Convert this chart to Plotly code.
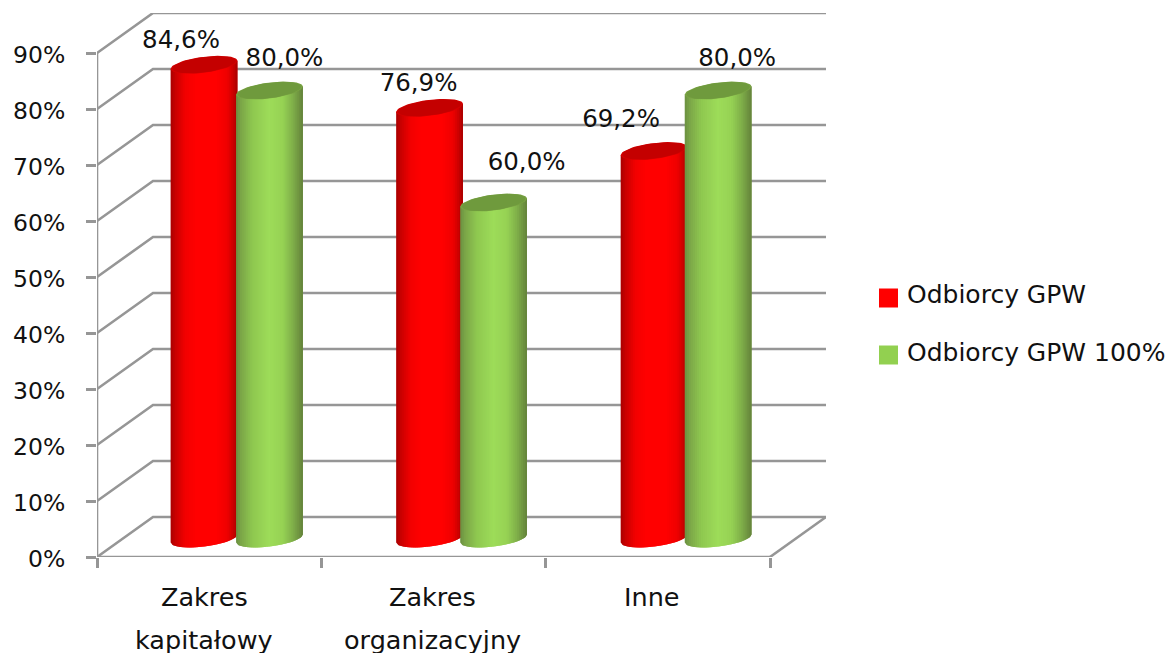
import numpy as np
import plotly.graph_objects as go

categories = ["Zakres kapitałowy", "Zakres organizacyjny", "Inne"]
series_names = ["Odbiorcy GPW", "Odbiorcy GPW 100%"]
values_gpw = [84.6, 76.9, 69.2]
values_gpw100 = [80.0, 60.0, 80.0]
y_ticks = [0, 10, 20, 30, 40, 50, 60, 70, 80, 90]
y_ticktext = [f"{v}%" for v in y_ticks]
label_text_gpw = ["84,6%", "76,9%", "69,2%"]
label_text_gpw100 = ["80,0%", "60,0%", "80,0%"]

# ---- layout constants (pixels) ----
W, H = 1172, 653
L, R_EDGE, T, B_EDGE = 97, 826, 13, 557
PX_Y = 5.6        # px per percentage point
PX_X = (R_EDGE - L - 56) / 3.0     # px per category
DEPTH_X, DEPTH_Y = 56 / PX_X, 40 / PX_Y
BAR_DX, BAR_DY = 28 / PX_X, 18.5 / PX_Y
RX, RY, TILT = 33.4, 8.0, 4.0
FONT = "DejaVu Sans"
GREY = "#969696"
LW = 2.6
TXT = "#111111"

dx = lambda p: p / PX_X
dy = lambda p: p / PX_Y
XMIN = -0.5
XEND = 2.5

red_stops = [(0, "#A80000"), (0.07, "#C80000"), (0.22, "#F20000"), (0.38, "#FF0000"),
             (0.68, "#FF0000"), (0.85, "#EE0000"), (0.95, "#C40000"), (1, "#A80000")]
green_stops = [(0, "#6B9040"), (0.08, "#7CA748"), (0.25, "#8FC850"), (0.5, "#9DDC59"),
               (0.7, "#96D254"), (0.85, "#7FAF49"), (1, "#64833A")]
tops = {0: ("#D40000", "#C40000"), 1: ("#79A243", "#6F9A3D")}
series_values = [values_gpw, values_gpw100]
series_labels = [label_text_gpw, label_text_gpw100]
# bar-centre offset from the group centre, px
series_off = [[-33.15, -31.95, -31.75], [32.3, 32.1, 32.3]]
swatch = ["#FF0000", "#92D050"]
stops_all = [red_stops, green_stops]
# label offsets from bar top, px (dx, dy)
label_off = [[(-23, -23), (-11, -23), (-33, -30)], [(15, -31), (33, -39), (19, -31)]]
cat_label_x = [204, 432, 652]
cat_line_y = [597, 640]


def lerp(stops, t):
    for (a, ca), (b, cb) in zip(stops, stops[1:]):
        if t <= b:
            f = (t - a) / (b - a)
            c1 = [int(ca[i:i + 2], 16) for i in (1, 3, 5)]
            c2 = [int(cb[i:i + 2], 16) for i in (1, 3, 5)]
            return "rgb(%d,%d,%d)" % tuple(round(x + (y - x) * f) for x, y in zip(c1, c2))
    return stops[-1][1]


def centre(s, i):
    return i + BAR_DX + dx(series_off[s][i])


traces = []

# gridlines: front-left axis -> back wall -> right edge
gx, gy = [], []
for v in y_ticks:
    gx += [XMIN, XMIN + DEPTH_X, XEND + DEPTH_X, None]
    gy += [v, v + DEPTH_Y, v + DEPTH_Y, None]
# floor right diagonal, front axis, vertical axis
gx += [XEND, XEND + DEPTH_X, None, XMIN, XEND, None, XMIN, XMIN]
gy += [0, DEPTH_Y, None, 0, 0, None, 0, y_ticks[-1]]
traces.append(go.Scatter(x=gx, y=gy, mode="lines", line=dict(color=GREY, width=LW),
                         hoverinfo="skip", showlegend=False, cliponaxis=False))

# base bars with real values
for s, vals in enumerate(series_values):
    traces.append(go.Bar(x=[centre(s, i) for i in range(3)], y=vals,
                         base=[BAR_DY] * 3, width=dx(RX) * 1.6, name=series_names[s],
                         marker=dict(color=swatch[s], line=dict(width=0)), showlegend=False,
                         cliponaxis=False))

# cylinder shading as filled strips
N = 33
edges = np.linspace(-1, 1, N + 1)
for s, vals in enumerate(series_values):
    for k in range(N):
        u0 = edges[k]
        u1b = edges[min(k + 2, N)]   # overlap to hide seams
        xs, ys = [], []
        for i, v in enumerate(vals):
            c = centre(s, i)
            us = np.linspace(u0, u1b, 3)
            low = [BAR_DY + dy(-RY * np.sqrt(max(0, 1 - u * u)) + TILT * u) for u in us]
            up = [BAR_DY + v + dy(TILT * u) for u in us]
            px_ = [c + dx(RX * u) for u in us]
            xs += px_ + px_[::-1] + [px_[0], None]
            ys += low + up[::-1] + [low[0], None]
        col = lerp(stops_all[s], (k + 0.5) / N)
        traces.append(go.Scatter(x=xs, y=ys, mode="lines", fill="toself", fillcolor=col,
                                 line=dict(width=0, color=col), hoverinfo="skip", showlegend=False,
                                 cliponaxis=False))
    # top caps
    for (scale, col) in zip((1.0, 0.95), tops[s]):
        xs, ys = [], []
        for i, v in enumerate(vals):
            c = centre(s, i)
            th = np.linspace(0, 2 * np.pi, 61)
            xs += list(c + dx(RX * scale * np.cos(th))) + [None]
            ys += list(BAR_DY + v + dy(scale * (RY * np.sin(th) + TILT * np.cos(th)))) + [None]
        traces.append(go.Scatter(x=xs, y=ys, mode="lines", fill="toself", fillcolor=col,
                                 line=dict(width=0, color=col), hoverinfo="skip", showlegend=False,
                                 cliponaxis=False))

# data labels
for s, vals in enumerate(series_values):
    xs = [centre(s, i) + dx(label_off[s][i][0]) for i in range(3)]
    ys = [BAR_DY + v - dy(label_off[s][i][1]) for i, v in enumerate(vals)]
    traces.append(go.Scatter(x=xs, y=ys, mode="text", text=series_labels[s],
                             textposition="middle center",
                             textfont=dict(family=FONT, size=24.5, color=TXT),
                             hoverinfo="skip", showlegend=False, cliponaxis=False))

fig = go.Figure(traces)

annotations = []
for cx, cat in zip(cat_label_x, categories):
    for word, yy in zip(cat.split(" "), cat_line_y):
        annotations.append(dict(x=cx, y=yy, xref="paper", yref="paper", text=word, showarrow=False,
                                font=dict(family=FONT, size=25.5, color=TXT), xanchor="center", yanchor="middle"))
shapes = []
legend_y = [297, 354]
for name, col, yy in zip(series_names, swatch, legend_y):
    annotations.append(dict(x=905, y=yy - 2, xref="paper", yref="paper", text=name, showarrow=False,
                            font=dict(family=FONT, size=25, color=TXT), xanchor="left", yanchor="middle"))
    shapes.append(dict(type="rect", xref="paper", yref="paper", x0=879, x1=898, y0=yy + 1 - 9.5, y1=yy + 1 + 9.5,
                       fillcolor=col, line=dict(width=0)))

# convert pixel positions to paper fractions
pw, ph = R_EDGE - L, B_EDGE - T
for a in annotations:
    a["x"] = (a["x"] - L) / pw
    a["y"] = (B_EDGE - a["y"]) / ph
for sh in shapes:
    sh["x0"], sh["x1"] = (sh["x0"] - L) / pw, (sh["x1"] - L) / pw
    sh["y0"], sh["y1"] = (B_EDGE - sh["y0"]) / ph, (B_EDGE - sh["y1"]) / ph

fig.update_layout(
    width=W, height=H, autosize=False, showlegend=False,
    margin=dict(l=L, r=W - R_EDGE, t=T, b=H - B_EDGE, pad=0),
    paper_bgcolor="white", plot_bgcolor="white", barmode="overlay",
    annotations=annotations, shapes=shapes,
    xaxis=dict(range=[XMIN, XEND + DEPTH_X], tickvals=[-0.5, 0.5, 1.5, 2.5], ticktext=["", "", "", ""],
               ticks="outside", ticklen=10, tickwidth=LW, tickcolor=GREY,
               showgrid=False, zeroline=False, showline=False, fixedrange=True),
    yaxis=dict(range=[0, (B_EDGE - T) / PX_Y], tickvals=y_ticks, ticktext=y_ticktext,
               ticks="outside", ticklen=10, tickwidth=LW, tickcolor=GREY, ticklabelstandoff=16,
               ticklabelshift=2,
               tickfont=dict(family=FONT, size=23.5, color=TXT),
               showgrid=False, zeroline=False, showline=False, fixedrange=True),
)

fig.write_html("out.html", post_script="document.body.style.margin='0';",
               config=dict(displayModeBar=False))
